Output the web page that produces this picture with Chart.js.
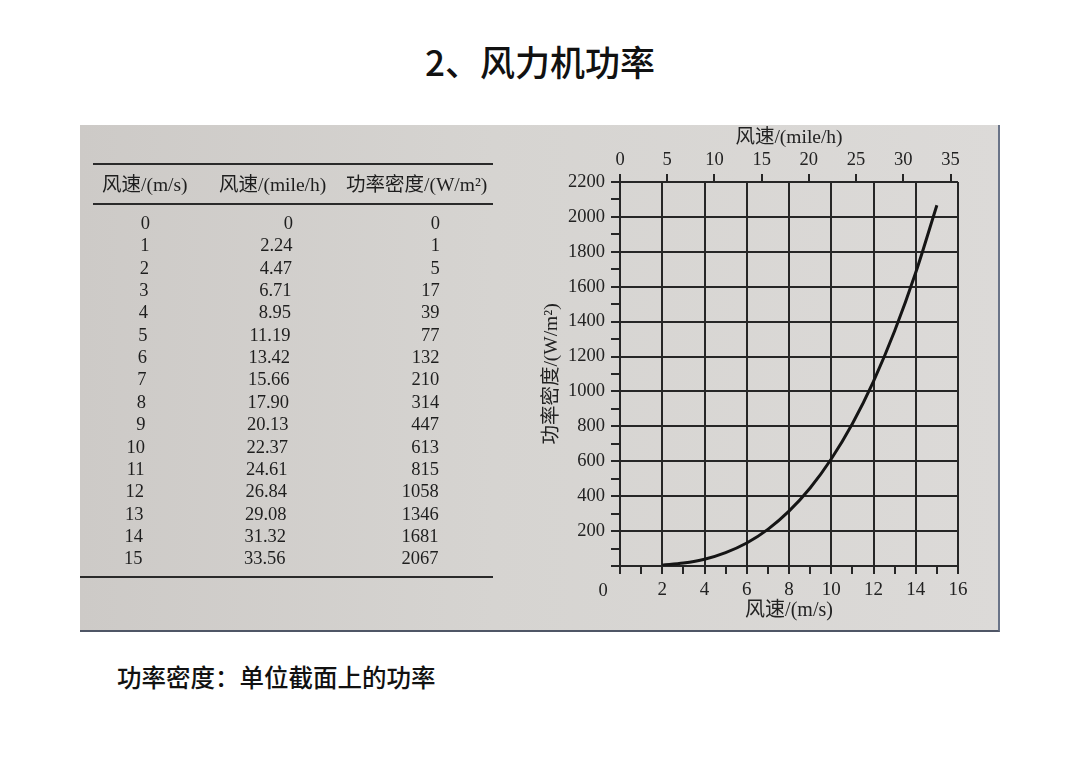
<!DOCTYPE html>
<html><head><meta charset="utf-8">
<script src="https://cdn.jsdelivr.net/npm/chart.js@4/dist/chart.umd.min.js"></script>
<style>
html,body{margin:0;padding:0;background:#fff;width:1080px;height:764px;overflow:hidden;}
#title{position:absolute;left:0;width:1080px;top:35px;text-align:center;font-family:"Noto Sans CJK SC",sans-serif;font-weight:500;font-size:35px;color:#111;}
#photo{position:absolute;left:80px;top:125px;width:920px;height:507px;background:linear-gradient(90deg,#cdcac7 0%,#d6d4d1 45%,#dcdad8 100%);border-bottom:2px solid #4f5666;border-right:2px solid #6a7488;box-sizing:border-box;}
#cv{position:absolute;left:0;top:0;}
.rule{position:absolute;height:2px;background:#2a2a2a;}
.cell{position:absolute;font-family:"Liberation Serif","Noto Sans CJK SC",serif;font-size:18.5px;color:#1e1e1e;line-height:22px;white-space:nowrap;}
.hdr{font-size:19.5px;}
#caption{position:absolute;left:117px;top:659px;font-family:"Noto Sans CJK SC",sans-serif;font-size:24.5px;font-weight:500;color:#111;}
</style></head>
<body>
<div id="title">2、风力机功率</div>
<div id="photo"><canvas id="cv" width="920" height="507"></canvas></div>
<div id="caption">功率密度：单位截面上的功率</div>
<script>
// ---- data ----
const speedMs = [0,1,2,3,4,5,6,7,8,9,10,11,12,13,14,15];
const speedMph = [0,2.24,4.47,6.71,8.95,11.19,13.42,15.66,17.90,20.13,22.37,24.61,26.84,29.08,31.32,33.56];
const powerDensity = [0,1,5,17,39,77,132,210,314,447,613,815,1058,1346,1681,2067];
const tableHeaders = ["风速/(m/s)","风速/(mile/h)","功率密度/(W/m²)"];
const xTickMax = 16;
const yTickMax = 2200;
const mphPerMs = 2.23694;

// ---- table (text) ----
(function(){
  const page = document.body;
  function add(cls, text, styles){
    const d=document.createElement('div'); d.className=cls; d.textContent=text;
    Object.assign(d.style, styles); page.appendChild(d); return d;
  }
  add('rule','',{left:'93px',top:'163px',width:'400px'});
  add('rule','',{left:'93px',top:'203px',width:'400px'});
  add('rule','',{left:'80px',top:'576px',width:'413px'});
  const hdrLeft=[102,219,346];
  tableHeaders.forEach((h,i)=>add('cell hdr',h,{left:hdrLeft[i]+'px',top:'174px'}));
  const rightEdges=[150,293,440];
  speedMs.forEach((v,r)=>{
    const top=(212+r*22.35)+'px';
    const vals=[String(v), speedMph[r]===0?'0':speedMph[r].toFixed(2), String(powerDensity[r])];
    vals.forEach((t,c)=>add('cell',t,{right:(1080-rightEdges[c]+r*0.5*(c<2?1:0.2))+'px',top:top}));
  });
})();

// ---- chart ----
const ink='#262626';
const serif="'Liberation Serif','Noto Sans CJK SC',serif";
const curve = speedMs.map((v,i)=>({x:v,y:powerDensity[i]})).filter(p=>p.x>=2);

const originLabel={id:'originLabel',afterDraw(chart){
  const {ctx,chartArea}=chart;
  ctx.save();ctx.font="18.5px "+serif;ctx.fillStyle='#222';ctx.textAlign='center';ctx.textBaseline='middle';
  ctx.fillText('0',chartArea.left-17,chartArea.bottom+25);ctx.restore();
}};

new Chart(document.getElementById('cv'),{
  type:'line',
  data:{datasets:[{data:curve,borderColor:'#151515',borderWidth:3,pointRadius:0,fill:false,cubicInterpolationMode:'monotone'}]},
  options:{
    responsive:false,animation:false,devicePixelRatio:1,
    layout:{padding:{left:460,right:42,top:0,bottom:0}},
    plugins:{legend:{display:false},tooltip:{enabled:false}},
    scales:{
      x:{type:'linear',position:'bottom',min:0,max:xTickMax,
        afterFit:s=>{s.height=66;},
        ticks:{stepSize:1,includeBounds:false,maxRotation:0,autoSkip:false,padding:5,color:'#222',font:{family:serif,size:19},
          callback:v=>(v%2===0&&v!==0)?String(v):''},
        grid:{color:c=>(c.tick&&c.tick.value%2===0)?ink:'rgba(0,0,0,0)',tickColor:ink,lineWidth:2,tickLength:8},
        border:{display:true,color:ink,width:2},
        title:{display:true,text:'风速/(m/s)',color:'#222',font:{family:serif,size:20},padding:{top:0,bottom:9}}
      },
      x2:{type:'linear',position:'top',min:0,max:xTickMax*mphPerMs,
        afterFit:s=>{s.height=57;},
        ticks:{stepSize:5,includeBounds:false,maxRotation:0,autoSkip:false,padding:3,color:'#222',font:{family:serif,size:18.5}},
        grid:{drawOnChartArea:false,tickColor:ink,lineWidth:2,tickLength:8},
        border:{display:false},
        title:{display:true,text:'风速/(mile/h)',color:'#222',font:{family:serif,size:19.5},padding:{top:1,bottom:0}}
      },
      y:{type:'linear',position:'left',min:0,max:yTickMax,
        afterFit:s=>{s.width=80;},
        ticks:{stepSize:100,autoSkip:false,padding:6,color:'#222',font:{family:serif,size:18.5},
          callback:v=>(v%200===0&&v!==0)?String(v):''},
        grid:{color:c=>(c.tick&&c.tick.value%200===0)?ink:'rgba(0,0,0,0)',tickColor:ink,lineWidth:2,tickLength:9},
        border:{display:true,color:ink,width:2},
        title:{display:true,text:'功率密度/(W/m²)',color:'#222',font:{family:serif,size:19.5},padding:{top:0,bottom:0}}
      }
    }
  },
  plugins:[originLabel]
});
</script>
</body></html>
